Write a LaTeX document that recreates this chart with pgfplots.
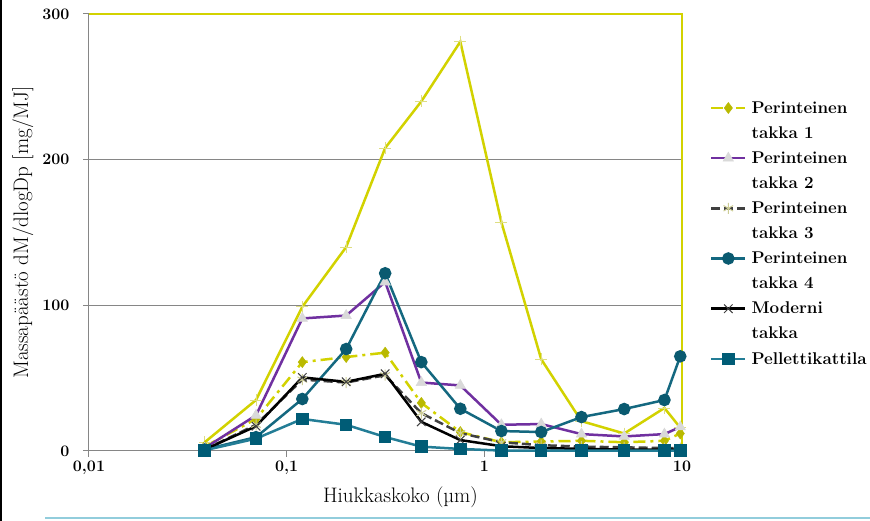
\documentclass[border=0pt]{standalone}
\usepackage{pgfplots}
\pgfplotsset{compat=1.18}
\definecolor{ylw}{RGB}{210,210,0}
\definecolor{ylwmark}{RGB}{222,222,130}
\definecolor{olive1}{RGB}{185,185,0}
\definecolor{purp}{RGB}{112,48,160}
\definecolor{trig}{RGB}{217,217,217}
\definecolor{dgray}{RGB}{64,64,64}
\definecolor{starc}{RGB}{205,205,150}
\definecolor{teal4}{RGB}{20,104,128}
\definecolor{teal4m}{RGB}{10,90,112}
\definecolor{pell}{RGB}{35,125,150}
\definecolor{pellm}{RGB}{0,92,118}
\definecolor{gridc}{RGB}{134,134,134}
\definecolor{slideblue}{RGB}{146,205,220}
\pgfplotsset{
  twoline/.style={legend image code/.code={\draw[mark repeat=2,mark phase=2,##1,yshift=12.5pt] plot coordinates {(0pt,0pt) (17pt,0pt) (34pt,0pt)};}},
}
\begin{document}
\begin{tikzpicture}
\path[use as bounding box,fill=white] (0,0) rectangle (870pt,521pt);
\draw[black,line width=1.5pt] (0.75pt,0) -- (0.75pt,521pt);
\draw[slideblue,line width=1.5pt] (45pt,3pt) -- (870pt,3pt);
\begin{axis}[
  at={(89pt,70pt)}, anchor=south west,
  scale only axis, width=593pt, height=437pt,
  xmode=log, xmin=0.01, xmax=10, ymin=0, ymax=300,
  clip=false,
  axis lines=left, axis line style={-,gridc,line width=1pt},
  tick align=outside, major tick length=6pt,
  tick style={gridc,line width=1pt},
  minor tick num=0, xminorticks=false,
  xtick={0.01,0.1,1,10},
  xticklabels={{\textbf{0,01}},{\textbf{0,1}},\textbf{1},\textbf{10}},
  ytick={0,100,200,300},
  yticklabels={\textbf{0},\textbf{100},\textbf{200},\textbf{300}},
  ymajorgrids, major grid style={gridc,line width=1pt},
  xticklabel style={font=\fontsize{16}{18}\selectfont},
  yticklabel style={font=\fontsize{16}{18}\selectfont, xshift=-10pt},
  xlabel={Hiukkaskoko (µm)},
  ylabel={Massapäästö dM/dlogDp [mg/MJ]},
  xlabel style={font=\fontsize{21}{24}\selectfont, at={(axis description cs:0.5,0)}, anchor=center, yshift=-46pt, xshift=15pt},
  ylabel style={font=\fontsize{21}{24}\selectfont, at={(axis description cs:0,0.5)}, anchor=center, yshift=66pt},
  legend style={at={(1.047,0.805)}, anchor=north west, draw=none, fill=none,
    font=\fontsize{17}{25}\selectfont\bfseries, cells={anchor=west, align=left},
    row sep=8pt, column sep=3pt, inner sep=0pt},
  legend image code/.code={\draw[mark repeat=2,mark phase=2,#1] plot coordinates {(0pt,0pt) (17pt,0pt) (34pt,0pt)};},
  every axis plot/.append style={line width=2.5pt},
]
% unlabelled yellow series (legend entry cut off in the original)
\addplot[ylw, mark=+, mark size=6pt, mark options={ylwmark,line width=1pt}, forget plot] coordinates {
(0.0385,6) (0.070,35) (0.12,99) (0.20,140) (0.315,208) (0.48,240) (0.756,281)
(1.22,157) (1.94,63) (3.1,20.5) (5.1,12) (8.15,29.5) (9.8,16)};
\addplot[ylw, twoline, dash pattern=on 12pt off 5pt on 3pt off 5pt, mark=diamond*, mark size=5.5pt,
  mark options={solid,fill=olive1,draw=olive1,line width=0.5pt}] coordinates {
(0.0385,3) (0.070,22) (0.12,61) (0.20,64.5) (0.315,67.5) (0.48,33) (0.756,13)
(1.22,6) (1.94,6.5) (3.1,7) (5.1,6) (8.15,7) (9.8,12)};
\addlegendentry{Perinteinen\\takka 1}
\addplot[purp, twoline, mark=triangle*, mark size=6pt, mark options={fill=trig,draw=trig,line width=0.5pt}] coordinates {
(0.0385,2) (0.070,24.5) (0.12,91) (0.20,93) (0.315,116) (0.48,47) (0.756,45)
(1.22,18) (1.94,18.5) (3.1,11.6) (5.1,10) (8.15,11.6) (9.8,16.5)};
\addlegendentry{Perinteinen\\takka 2}
\addplot[dgray, twoline, dash pattern=on 9pt off 4pt, mark=asterisk, mark size=5.5pt, mark options={solid,starc,line width=1pt}] coordinates {
(0.0385,1) (0.070,18) (0.12,49) (0.20,47) (0.315,52) (0.48,26) (0.756,12.3)
(1.22,6) (1.94,4) (3.1,3) (5.1,2.5) (8.15,2) (9.8,2)};
\addlegendentry{Perinteinen\\takka 3}
\addplot[teal4, twoline, mark=*, mark size=5pt, mark options={fill=teal4m,draw=teal4m}] coordinates {
(0.0385,1) (0.070,9.5) (0.12,35.7) (0.20,70) (0.315,122) (0.48,61) (0.756,29)
(1.22,13.7) (1.94,13) (3.1,23.3) (5.1,28.8) (8.15,35) (9.8,65)};
\addlegendentry{Perinteinen\\takka 4}
\addplot[black, twoline, mark=x, mark size=6pt, mark options={black!75,line width=1pt}] coordinates {
(0.0385,1) (0.070,17) (0.12,50.5) (0.20,47.5) (0.315,53) (0.48,20) (0.756,7.5)
(1.22,3.3) (1.94,2) (3.1,1.5) (5.1,1) (8.15,1) (9.8,1)};
\addlegendentry{Moderni\\takka}
\addplot[pell, mark=square*, mark size=5pt, mark options={fill=pellm,draw=pellm}] coordinates {
(0.0385,0.5) (0.070,8.5) (0.12,22) (0.20,18) (0.315,9.6) (0.48,3) (0.756,1.4)
(1.22,0.3) (1.94,0.2) (3.1,0.2) (5.1,0.2) (8.15,0.2) (9.8,0.2)};
\addlegendentry{Pellettikattila}
\draw[ylw,line width=1.8pt] (rel axis cs:0,1) -- (rel axis cs:1,1) -- (rel axis cs:1,0);
\end{axis}
\end{tikzpicture}
\end{document}
